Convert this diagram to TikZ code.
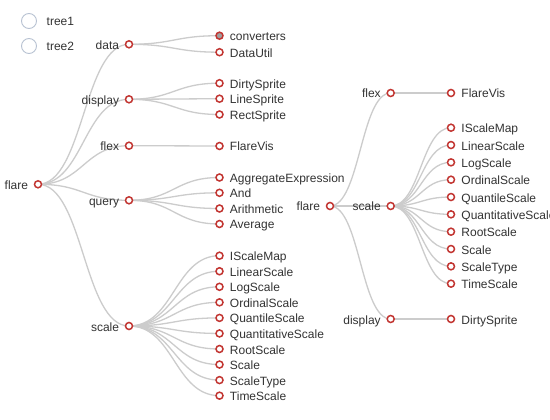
\documentclass[tikz,border=0pt]{standalone}
\usepackage{fontspec}
\setmainfont{Liberation Sans}
\definecolor{edgec}{HTML}{CCCCCC}
\definecolor{nodec}{HTML}{C23531}
\definecolor{txtc}{HTML}{333333}
\definecolor{legc}{HTML}{B8C2D2}
\definecolor{fillc}{HTML}{A0A0A0}
\pgfdeclarelayer{bgzero}
\pgfdeclarelayer{edges}
\pgfsetlayers{bgzero,edges,main}
\begin{document}
\begin{tikzpicture}[x=1pt,y=-1pt,
  edge/.style={draw=edgec,line width=1.3pt},
  dot/.style={circle,draw=nodec,fill=white,line width=1.5pt,minimum size=7pt,inner sep=0pt},
  lbl/.style={font=\fontsize{12}{14}\selectfont,text=txtc,inner sep=0pt,text height=10pt,text depth=0pt},
  lft/.style={label={[lbl,label distance=5.5pt]left:#1}},
  rgt/.style={label={[lbl,label distance=6pt]right:#1}},
  legdot/.style={circle,draw=legc,fill=white,line width=0.9pt,minimum size=15pt,inner sep=0pt}
]
\begin{pgfonlayer}{bgzero}
\fill[white] (0,0) rectangle (550,420);
\end{pgfonlayer}
\useasboundingbox (0,0) rectangle (550,420);

% legend
\node[legdot] (lg1) at (29,21) {};
\node[lbl,anchor=west] (lt1) at (46.5,21) {tree1};
\node[legdot] (lg2) at (29,46) {};
\node[lbl,anchor=west] (lt2) at (46.5,46) {tree2};

% ---------- tree 1 ----------
\node[dot,lft=flare] (fA) at (38,184.3) {};
\node[dot,lft=data] (dataA) at (129,44.3) {};
\node[dot,lft=display] (dispA) at (129,99.3) {};
\node[dot,lft=flex] (flexA) at (129,145.7) {};
\node[dot,lft=query] (queryA) at (129,200.3) {};
\node[dot,lft=scale] (scaleA) at (129,326) {};

\node[dot,fill=fillc,rgt=converters] (conv) at (219.5,35.7) {};
\foreach \n/\y/\t in {dutil/52.2/DataUtil, dirtyA/83.2/DirtySprite, lineA/98.7/LineSprite,
  rectA/114.5/RectSprite, fvisA/146/FlareVis, aggr/177.5/AggregateExpression, andq/192.8/And,
  arith/208.5/Arithmetic, aver/224/Average}
  \node[dot,rgt=\t] (\n) at (219.5,\y) {};

\foreach \t [count=\i from 0] in {IScaleMap,LinearScale,LogScale,OrdinalScale,QuantileScale,
  QuantitativeScale,RootScale,Scale,ScaleType,TimeScale}
  \node[dot,rgt=\t] (sA\i) at (219.5,255.7+15.55*\i) {};

% ---------- tree 2 ----------
\node[dot,lft=flare] (fB) at (330,206) {};
\node[dot,lft=flex] (flexB) at (390.7,93) {};
\node[dot,lft=scale] (scaleB) at (390.7,206) {};
\node[dot,lft=display] (dispB) at (390.7,319) {};
\node[dot,rgt=FlareVis] (fvisB) at (451,93) {};
\node[dot,rgt=DirtySprite] (dirtyB) at (451,319) {};
\foreach \t [count=\i from 0] in {IScaleMap,LinearScale,LogScale,OrdinalScale,QuantileScale,
  QuantitativeScale,RootScale,Scale,ScaleType,TimeScale}
  \node[dot,rgt=\t] (sB\i) at (451,127.7+17.33*\i) {};

% ---------- edges ----------
\begin{pgfonlayer}{edges}
\foreach \c in {dataA,dispA,flexA,queryA,scaleA}
  \draw[edge] (fA.center) .. controls +(45.5,0) and +(-45.5,0) .. (\c.center);
\foreach \p/\c in {dataA/conv,dataA/dutil,dispA/dirtyA,dispA/lineA,dispA/rectA,flexA/fvisA,
  queryA/aggr,queryA/andq,queryA/arith,queryA/aver}
  \draw[edge] (\p.center) .. controls +(45,0) and +(-45,0) .. (\c.center);
\foreach \i in {0,...,9}
  \draw[edge] (scaleA.center) .. controls +(45,0) and +(-45,0) .. (sA\i.center);
\foreach \c in {flexB,scaleB,dispB}
  \draw[edge] (fB.center) .. controls +(30,0) and +(-30,0) .. (\c.center);
\draw[edge] (flexB.center) .. controls +(30,0) and +(-30,0) .. (fvisB.center);
\draw[edge] (dispB.center) .. controls +(30,0) and +(-30,0) .. (dirtyB.center);
\foreach \i in {0,...,9}
  \draw[edge] (scaleB.center) .. controls +(30,0) and +(-30,0) .. (sB\i.center);
\end{pgfonlayer}
\end{tikzpicture}
\end{document}
